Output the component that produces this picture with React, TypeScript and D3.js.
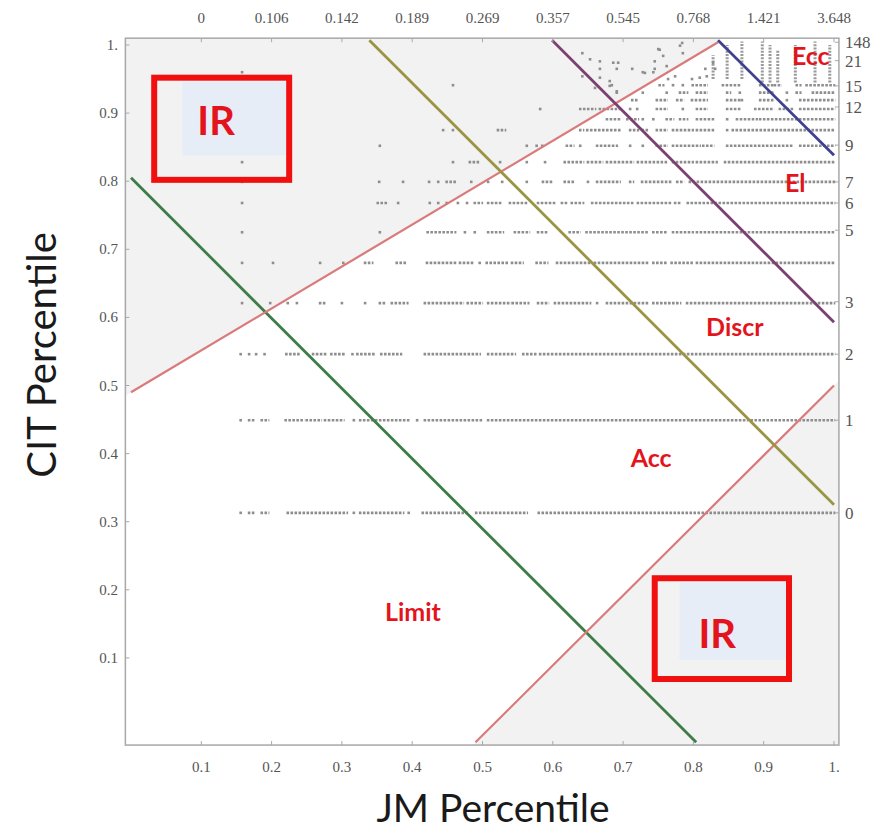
import * as d3 from 'd3';
import React from 'react';

// JM percentile ticks (bottom) and the raw JM values shown on top
const xTicks = [0.1, 0.2, 0.3, 0.4, 0.5, 0.6, 0.7, 0.8, 0.9, 1.0];
const xTickLabels = ['0.1', '0.2', '0.3', '0.4', '0.5', '0.6', '0.7', '0.8', '0.9', '1.'];
const topTickLabels = ['0', '0.106', '0.142', '0.189', '0.269', '0.357', '0.545', '0.768', '1.421', '3.648'];
const yTicks = [0.1, 0.2, 0.3, 0.4, 0.5, 0.6, 0.7, 0.8, 0.9, 1.0];
const yTickLabels = ['0.1', '0.2', '0.3', '0.4', '0.5', '0.6', '0.7', '0.8', '0.9', '1.'];

// raw citation counts on the right, at their CIT percentile
const rightTicks: [string, number][] = [
  ['0', 0.313], ['1', 0.449], ['2', 0.546], ['3', 0.623], ['5', 0.728], ['6', 0.768],
  ['7', 0.799], ['9', 0.853], ['12', 0.909], ['15', 0.940], ['21', 0.977], ['148', 1.004],
];

// rows of papers: [CIT percentile, runs of dots [jmFrom, jmTo]]
const dotRows: [number, [number, number][]][] = [
  [0.313, [[0.156, 0.156], [0.168, 0.175], [0.186, 0.195], [0.223, 0.307], [0.317, 0.317], [0.326, 0.387], [0.395, 0.395], [0.415, 0.477], [0.491, 0.563], [0.58, 1.0]]],
  [0.449, [[0.156, 0.156], [0.168, 0.175], [0.186, 0.195], [0.22, 0.245], [0.25, 0.27], [0.276, 0.302], [0.317, 0.317], [0.326, 0.395], [0.407, 0.407], [0.418, 0.499], [0.508, 0.876], [0.883, 1.0]]],
  [0.546, [[0.156, 0.156], [0.168, 0.168], [0.178, 0.178], [0.19, 0.19], [0.221, 0.24], [0.259, 0.277], [0.285, 0.304], [0.315, 0.315], [0.322, 0.346], [0.356, 0.384], [0.418, 0.496], [0.508, 0.546], [0.558, 0.575], [0.582, 1.0]]],
  [0.621, [[0.158, 0.158], [0.198, 0.198], [0.223, 0.223], [0.236, 0.236], [0.269, 0.276], [0.3, 0.3], [0.333, 0.333], [0.354, 0.361], [0.371, 0.393], [0.418, 0.472], [0.479, 0.499], [0.508, 0.539], [0.543, 0.565], [0.579, 0.593], [0.603, 0.653], [0.663, 0.663], [0.677, 0.734], [0.743, 0.781], [0.791, 1.0]]],
  [0.68, [[0.158, 0.158], [0.202, 0.202], [0.269, 0.269], [0.302, 0.302], [0.333, 0.343], [0.378, 0.39], [0.421, 0.461], [0.468, 0.486], [0.496, 0.496], [0.506, 0.535], [0.542, 0.557], [0.577, 0.592], [0.606, 0.653], [0.66, 0.734], [0.743, 0.762], [0.769, 0.799], [0.805, 1.0]]],
  [0.725, [[0.158, 0.158], [0.354, 0.354], [0.422, 0.461], [0.475, 0.475], [0.489, 0.489], [0.508, 0.529], [0.546, 0.566], [0.579, 0.592], [0.624, 0.638], [0.648, 0.734], [0.743, 0.762], [0.771, 0.799], [0.805, 1.0]]],
  [0.768, [[0.158, 0.158], [0.351, 0.364], [0.38, 0.38], [0.425, 0.425], [0.437, 0.437], [0.449, 0.449], [0.465, 0.465], [0.478, 0.478], [0.489, 0.499], [0.508, 0.525], [0.539, 0.563], [0.579, 0.603], [0.613, 0.62], [0.627, 0.643], [0.656, 0.714], [0.721, 0.767], [0.774, 0.781], [0.792, 1.0]]],
  [0.799, [[0.158, 0.158], [0.353, 0.353], [0.387, 0.387], [0.424, 0.424], [0.437, 0.437], [0.449, 0.461], [0.484, 0.484], [0.508, 0.508], [0.528, 0.528], [0.563, 0.563], [0.586, 0.599], [0.617, 0.629], [0.65, 0.65], [0.663, 0.695], [0.71, 0.714], [0.727, 0.767], [0.777, 0.785], [0.795, 1.0]]],
  [0.828, [[0.158, 0.158], [0.458, 0.458], [0.482, 0.494], [0.525, 0.525], [0.563, 0.563], [0.589, 0.589], [0.617, 0.643], [0.65, 0.67], [0.677, 0.714], [0.721, 0.762], [0.771, 0.799], [0.805, 0.833], [0.845, 1.0]]],
  [0.852, [[0.354, 0.354], [0.563, 0.563], [0.577, 0.577], [0.585, 0.585], [0.62, 0.629], [0.639, 0.639], [0.663, 0.691], [0.71, 0.71], [0.728, 0.728], [0.748, 0.762], [0.771, 0.809], [0.814, 0.828], [0.848, 0.941], [0.952, 1.0]]],
  [0.875, [[0.444, 0.444], [0.458, 0.458], [0.522, 0.532], [0.639, 0.643], [0.649, 0.696], [0.71, 0.721], [0.728, 0.734], [0.748, 0.762], [0.771, 0.799], [0.805, 0.828], [0.848, 0.848], [0.856, 1.0]]],
  [0.891, [[0.677, 0.696], [0.706, 0.721], [0.728, 0.728], [0.743, 0.743], [0.762, 0.771], [0.781, 0.791], [0.805, 0.828], [0.848, 0.848], [0.862, 0.89], [0.895, 1.0]]],
  [0.906, [[0.582, 0.582], [0.639, 0.66], [0.667, 0.696], [0.71, 0.71], [0.72, 0.72], [0.748, 0.762], [0.785, 0.785], [0.805, 0.819], [0.848, 0.866], [0.888, 0.913], [0.923, 0.942], [0.952, 1.0]]],
  [0.919, [[0.713, 0.72], [0.748, 0.762], [0.777, 0.785], [0.798, 0.819], [0.848, 0.866], [0.869, 0.869], [0.895, 0.913], [0.933, 0.933], [0.952, 1.0]]],
  [0.93, [[0.691, 0.691], [0.728, 0.728], [0.762, 0.762], [0.781, 0.791], [0.805, 0.819], [0.848, 0.852], [0.866, 0.866], [0.895, 0.913], [0.933, 0.933], [0.947, 0.952], [0.97, 1.0]]],
  [0.941, [[0.684, 0.684], [0.752, 0.757], [0.771, 0.771], [0.785, 0.785], [0.799, 0.819], [0.842, 0.866], [0.895, 0.913], [0.916, 0.924], [0.947, 0.952], [0.961, 1.0]]],
];

// stacked columns of highly cited papers (Ecc corner): [jm, citFrom, citTo]
const eccColumns: [number, number, number][] = [
  [0.828, 0.95, 0.985], [0.848, 0.95, 1.0], [0.869, 0.95, 1.005], [0.898, 0.945, 1.005],
  [0.909, 0.945, 1.0], [0.92, 0.945, 0.993], [0.945, 0.945, 1.0], [0.973, 0.945, 1.005], [0.994, 0.945, 1.0],
];

// isolated papers: [jm, cit]
const scatterDots: [number, number][] = [
  [0.642, 0.988], [0.653, 0.979], [0.667, 0.976], [0.667, 0.965], [0.686, 0.974], [0.693, 0.974],
  [0.691, 0.965], [0.713, 0.965], [0.731, 0.959], [0.745, 0.976], [0.75, 0.994], [0.757, 0.984],
  [0.745, 0.965], [0.762, 0.969], [0.774, 0.954], [0.784, 1.003], [0.785, 0.988], [0.817, 0.965],
  [0.828, 0.974], [0.819, 0.954], [0.667, 0.952], [0.681, 0.947], [0.642, 0.954], [0.66, 0.937],
  [0.681, 0.94], [0.691, 0.932], [0.764, 0.95], [0.798, 0.95], [0.809, 0.952], [0.831, 0.965],
  [0.752, 0.993], [0.781, 0.999], [0.743, 0.96], [0.728, 0.96], [0.158, 0.96], [0.458, 0.941],
];

// boundary lines between classes
const boundaries: { name: string; color: string; pts: [number, number][] }[] = [
  { name: 'limit', color: '#3f7d48', pts: [[0, 0.805], [0.804, -0.024]] },
  { name: 'irUpper', color: '#d97a7b', pts: [[0, 0.49], [0.835, 1.004]] },
  { name: 'irLower', color: '#d97a7b', pts: [[0.49, -0.024], [1.0, 0.5]] },
  { name: 'acc', color: '#9a9543', pts: [[0.339, 1.007], [1.0, 0.325]] },
  { name: 'discr', color: '#7b4071', pts: [[0.599, 1.007], [1.0, 0.593]] },
  { name: 'el', color: '#3f4190', pts: [[0.835, 1.007], [1.0, 0.838]] },
];

const regionLabels: [string, number, number][] = [
  ['Ecc', 0.967, 0.985], ['El', 0.945, 0.799], ['Discr', 0.859, 0.587],
  ['Acc', 0.74, 0.395], ['Limit', 0.401, 0.169],
];

const W = 872;
const H = 833;
const xMin = -0.008, xMax = 1.007, yMin = -0.028, yMax = 1.01;

const App = () => {
  const x = d3.scaleLinear().domain([0, 1]).range([131, 834]);
  const y = d3.scaleLinear().domain([0, 1]).range([726, 45]);
  const line = d3.line<[number, number]>().x(d => x(d[0])).y(d => y(d[1]));

  const fl = x(xMin), fr = x(xMax), ft = y(yMax), fb = y(yMin);
  const dotColor = '#8e8e8e';
  const tickFont = { fontFamily: 'Liberation Serif, serif', fontSize: 15, fill: '#555' };

  const upperGray: [number, number][] = [[xMin, yMax], [xMin, 0.485], [0.835, 1.004], [0.835, yMax]];
  const lowerGray: [number, number][] = [[0.486, yMin], [xMax, 0.507], [xMax, yMin]];

  const irBoxes = [
    { box: [0.033, 0.225, 0.952, 0.802], pale: [0.073, 0.221, 0.946, 0.838], text: [0.121, 0.89] },
    { box: [0.745, 0.936, 0.217, 0.069], pale: [0.78, 0.932, 0.211, 0.097], text: [0.834, 0.137] },
  ];

  return (
    <svg width={W} height={H} style={{ position: 'absolute', left: 0, top: 0, background: '#fff' }}>
      <defs>
        <clipPath id="plotClip">
          <rect x={fl} y={ft} width={fr - fl} height={fb - ft} />
        </clipPath>
      </defs>

      <g clipPath="url(#plotClip)">
        <path d={line(upperGray) + 'Z'} fill="#f2f2f2" />
        <path d={line(lowerGray) + 'Z'} fill="#f2f2f2" />

        {dotRows.map(([cit, runs], i) => (
          <g key={i}>
            {runs.map(([a, b], j) =>
              a === b ? (
                <rect key={j} x={x(a) - 1.3} y={y(cit) - 1.3} width={2.6} height={2.6} fill={dotColor} />
              ) : (
                <line key={j} x1={x(a) - 1.3} x2={x(b) + 1.3} y1={y(cit)} y2={y(cit)}
                  stroke={dotColor} strokeWidth={2.6} strokeDasharray="2.6 1.4" />
              )
            )}
          </g>
        ))}

        {eccColumns.map(([jm, c0, c1], i) => (
          <line key={i} x1={x(jm)} x2={x(jm)} y1={y(c0)} y2={y(c1)}
            stroke="#9a9a9a" strokeWidth={3} strokeDasharray="2 1.3" />
        ))}

        {scatterDots.map(([jm, cit], i) => (
          <rect key={i} x={x(jm) - 1.3} y={y(cit) - 1.3} width={2.6} height={2.6} fill={dotColor} />
        ))}

        {boundaries.map(b => (
          <path key={b.name} d={line(b.pts) ?? ''} fill="none" stroke={b.color}
            strokeWidth={b.name.startsWith('ir') ? 2.2 : 2.8} />
        ))}
      </g>

      {/* frame */}
      <rect x={fl} y={ft} width={fr - fl} height={fb - ft} fill="none" stroke="#a8a8a8" strokeWidth={1.5} />

      {xTicks.map((t, i) => (
        <g key={'xt' + i}>
          <line x1={x(t)} x2={x(t)} y1={fb} y2={fb - 4} stroke="#a8a8a8" />
          <line x1={x(t)} x2={x(t)} y1={ft} y2={ft + 4} stroke="#a8a8a8" />
          <text x={x(t)} y={fb + 27} textAnchor="middle" {...tickFont}>{xTickLabels[i]}</text>
          <text x={x(t)} y={23} textAnchor="middle" {...tickFont}>{topTickLabels[i]}</text>
        </g>
      ))}

      {yTicks.map((t, i) => (
        <g key={'yt' + i}>
          <line x1={fl} x2={fl + 4} y1={y(t)} y2={y(t)} stroke="#a8a8a8" />
          <text x={118} y={y(t) + 5} textAnchor="end" {...tickFont}>{yTickLabels[i]}</text>
        </g>
      ))}

      {rightTicks.map(([lab, v]) => (
        <g key={'rt' + lab}>
          <line x1={fr} x2={fr - 4} y1={y(v)} y2={y(v)} stroke="#a8a8a8" />
          <text x={845} y={y(v) + 6} textAnchor="start" {...tickFont} fontSize={17}>{lab}</text>
        </g>
      ))}

      {/* IR annotation boxes */}
      {irBoxes.map((r, i) => (
        <g key={'ir' + i}>
          <rect x={x(r.pale[0])} y={y(r.pale[2])} width={x(r.pale[1]) - x(r.pale[0])}
            height={y(r.pale[3]) - y(r.pale[2])} fill="#e7edf7" />
          <rect x={x(r.box[0])} y={y(r.box[2])} width={x(r.box[1]) - x(r.box[0])}
            height={y(r.box[3]) - y(r.box[2])} fill="none" stroke="#f01010" strokeWidth={6} />
          <text x={x(r.text[0])} y={y(r.text[1])} textAnchor="middle" dominantBaseline="central"
            fontFamily="Lato, sans-serif" fontWeight="bold" fontSize={40} fill="#e3141c">IR</text>
        </g>
      ))}

      {regionLabels.map(([lab, jm, cit]) => (
        <text key={lab} x={x(jm)} y={y(cit)} textAnchor="middle" dominantBaseline="central"
          fontFamily="Lato, sans-serif" fontWeight="bold" fontSize={25} fill="#e3141c">{lab}</text>
      ))}

      {/* axis titles */}
      <text x={493} y={822} textAnchor="middle" fontFamily="Lato, sans-serif" fontSize={39} fill="#1a1a1a">
        JM Percentile
      </text>
      <text transform="translate(56,355) rotate(-90)" textAnchor="middle" fontFamily="Lato, sans-serif"
        fontSize={40} fill="#1a1a1a">
        CIT Percentile
      </text>
    </svg>
  );
};

export default App;
